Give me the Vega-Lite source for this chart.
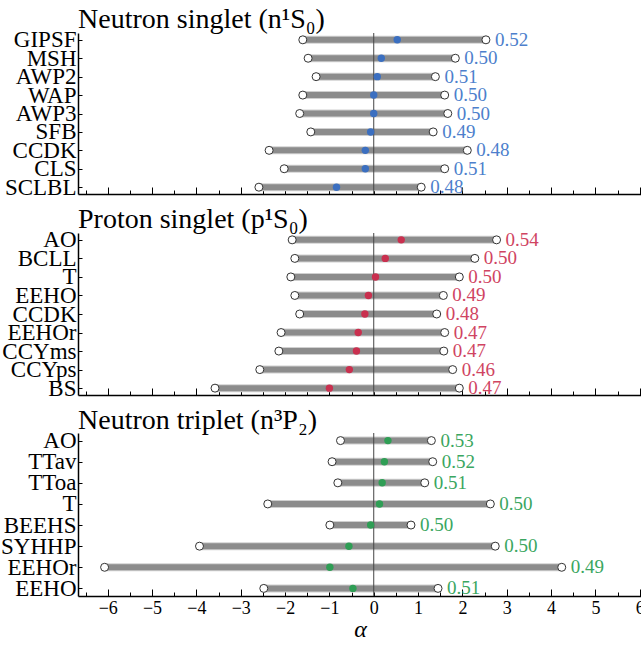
{
  "$schema": "https://vega.github.io/schema/vega-lite/v6.json",
  "padding": {"left": 0, "right": 0, "top": 5, "bottom": 0},
  "spacing": 5,
  "config": {
    "view": {"stroke": null},
    "font": "Liberation Serif",
    "axis": {"domainColor": "#000", "domainWidth": 1.5, "tickColor": "#000", "tickWidth": 1, "grid": false, "labelFont": "Liberation Serif", "labelColor": "#000", "titleFont": "Liberation Serif", "titleColor": "#000"},
    "title": {"font": "Liberation Serif", "fontSize": 28, "fontWeight": "normal", "anchor": "start", "frame": "group", "color": "#000", "offset": -5}
  },
  "datasets": {
    "d": [
      {"panel": "n1S0", "model": "GIPSF", "lo": -1.60, "c": 0.53, "hi": 2.53, "v": 0.52},
      {"panel": "n1S0", "model": "MSH", "lo": -1.48, "c": 0.17, "hi": 1.84, "v": 0.50},
      {"panel": "n1S0", "model": "AWP2", "lo": -1.30, "c": 0.08, "hi": 1.39, "v": 0.51},
      {"panel": "n1S0", "model": "WAP", "lo": -1.60, "c": 0.00, "hi": 1.60, "v": 0.50},
      {"panel": "n1S0", "model": "AWP3", "lo": -1.67, "c": 0.00, "hi": 1.67, "v": 0.50},
      {"panel": "n1S0", "model": "SFB", "lo": -1.42, "c": -0.07, "hi": 1.34, "v": 0.49},
      {"panel": "n1S0", "model": "CCDK", "lo": -2.36, "c": -0.19, "hi": 2.11, "v": 0.48},
      {"panel": "n1S0", "model": "CLS", "lo": -2.02, "c": -0.19, "hi": 1.60, "v": 0.51},
      {"panel": "n1S0", "model": "SCLBL", "lo": -2.59, "c": -0.84, "hi": 1.07, "v": 0.48},
      {"panel": "p1S0", "model": "AO", "lo": -1.84, "c": 0.62, "hi": 2.77, "v": 0.54},
      {"panel": "p1S0", "model": "BCLL", "lo": -1.78, "c": 0.26, "hi": 2.28, "v": 0.50},
      {"panel": "p1S0", "model": "T", "lo": -1.87, "c": 0.04, "hi": 1.93, "v": 0.50},
      {"panel": "p1S0", "model": "EEHO", "lo": -1.78, "c": -0.12, "hi": 1.57, "v": 0.49},
      {"panel": "p1S0", "model": "CCDK", "lo": -1.67, "c": -0.20, "hi": 1.42, "v": 0.48},
      {"panel": "p1S0", "model": "EEHOr", "lo": -2.09, "c": -0.35, "hi": 1.60, "v": 0.47},
      {"panel": "p1S0", "model": "CCYms", "lo": -2.14, "c": -0.39, "hi": 1.58, "v": 0.47},
      {"panel": "p1S0", "model": "CCYps", "lo": -2.57, "c": -0.55, "hi": 1.78, "v": 0.46},
      {"panel": "p1S0", "model": "BS", "lo": -3.58, "c": -1.00, "hi": 1.93, "v": 0.47},
      {"panel": "n3P2", "model": "AO", "lo": -0.75, "c": 0.32, "hi": 1.30, "v": 0.53},
      {"panel": "n3P2", "model": "TTav", "lo": -0.94, "c": 0.24, "hi": 1.33, "v": 0.52},
      {"panel": "n3P2", "model": "TToa", "lo": -0.81, "c": 0.19, "hi": 1.15, "v": 0.51},
      {"panel": "n3P2", "model": "T", "lo": -2.39, "c": 0.13, "hi": 2.63, "v": 0.50},
      {"panel": "n3P2", "model": "BEEHS", "lo": -0.99, "c": -0.07, "hi": 0.84, "v": 0.50},
      {"panel": "n3P2", "model": "SYHHP", "lo": -3.93, "c": -0.56, "hi": 2.74, "v": 0.50},
      {"panel": "n3P2", "model": "EEHOr", "lo": -6.07, "c": -0.99, "hi": 4.24, "v": 0.49},
      {"panel": "n3P2", "model": "EEHO", "lo": -2.48, "c": -0.47, "hi": 1.45, "v": 0.51}
    ]
  },
  "vconcat": [
    {
      "title": "Neutron singlet (n¹S₀)",
      "width": 564, "height": 161,
      "data": {"name": "d"},
      "transform": [{"filter": "datum.panel == 'n1S0'"}],
      "resolve": {"axis": {"x": "independent"}},
      "layer": [
        {"mark": {"type": "rule", "strokeWidth": 8, "color": "#d0d0d0"},
         "encoding": {
           "y": {"field": "model", "type": "nominal", "sort": null, "scale": {"type": "point", "padding": 0.37}, "axis": {"title": null, "labelFont": "Liberation Serif", "labelFontSize": 23, "tickSize": -4, "labelPadding": 6, "labelOverlap": false, "labelBound": false}},
           "x": {"field": "lo", "type": "quantitative", "scale": {"domain": [-6.67, 6.05], "nice": false, "zero": false}, "axis": {"orient": "bottom", "values": [-6,-5,-4,-3,-2,-1,0,1,2,3,4,5,6], "tickSize": -7, "labels": false, "title": null}},
           "x2": {"field": "hi"}}},
        {"mark": {"type": "rule", "strokeWidth": 6, "color": "#8c8c8c"},
         "encoding": {"y": {"field": "model", "type": "nominal", "sort": null}, "x": {"field": "lo", "type": "quantitative", "axis": null}, "x2": {"field": "hi"}}},
        {"transform": [{"aggregate": [{"op": "count", "as": "n"}]}],
         "mark": {"type": "rule", "strokeWidth": 1, "color": "#444"},
         "encoding": {"x": {"datum": 0, "type": "quantitative", "axis": {"orient": "bottom", "values": [-6.5,-5.5,-4.5,-3.5,-2.5,-1.5,-0.5,0.5,1.5,2.5,3.5,4.5,5.5], "tickSize": -4, "labels": false, "domain": false, "title": null}}}},
        {"mark": {"type": "point", "filled": true, "fill": "white", "stroke": "#333", "strokeWidth": 1, "size": 64, "opacity": 1},
         "encoding": {"y": {"field": "model", "type": "nominal", "sort": null}, "x": {"field": "lo", "type": "quantitative", "axis": null}}},
        {"mark": {"type": "point", "filled": true, "fill": "white", "stroke": "#333", "strokeWidth": 1, "size": 64, "opacity": 1},
         "encoding": {"y": {"field": "model", "type": "nominal", "sort": null}, "x": {"field": "hi", "type": "quantitative", "axis": null}}},
        {"mark": {"type": "circle", "color": "#3b6fc0", "size": 55, "opacity": 1},
         "encoding": {"y": {"field": "model", "type": "nominal", "sort": null}, "x": {"field": "c", "type": "quantitative", "axis": null}}},
        {"mark": {"type": "text", "align": "left", "baseline": "middle", "dx": 9, "fontSize": 19, "font": "Liberation Serif", "color": "#4d7fcc"},
         "encoding": {"y": {"field": "model", "type": "nominal", "sort": null}, "x": {"field": "hi", "type": "quantitative", "axis": null}, "text": {"field": "v", "type": "quantitative", "format": ".2f"}}}
      ]
    },
    {
      "title": "Proton singlet (p¹S₀)",
      "width": 564, "height": 162,
      "data": {"name": "d"},
      "transform": [{"filter": "datum.panel == 'p1S0'"}],
      "resolve": {"axis": {"x": "independent"}},
      "layer": [
        {"mark": {"type": "rule", "strokeWidth": 8, "color": "#d0d0d0"},
         "encoding": {
           "y": {"field": "model", "type": "nominal", "sort": null, "scale": {"type": "point", "padding": 0.37}, "axis": {"title": null, "labelFont": "Liberation Serif", "labelFontSize": 23, "tickSize": -4, "labelPadding": 6, "labelOverlap": false, "labelBound": false}},
           "x": {"field": "lo", "type": "quantitative", "scale": {"domain": [-6.67, 6.05], "nice": false, "zero": false}, "axis": {"orient": "bottom", "values": [-6,-5,-4,-3,-2,-1,0,1,2,3,4,5,6], "tickSize": -7, "labels": false, "title": null}},
           "x2": {"field": "hi"}}},
        {"mark": {"type": "rule", "strokeWidth": 6, "color": "#8c8c8c"},
         "encoding": {"y": {"field": "model", "type": "nominal", "sort": null}, "x": {"field": "lo", "type": "quantitative", "axis": null}, "x2": {"field": "hi"}}},
        {"transform": [{"aggregate": [{"op": "count", "as": "n"}]}],
         "mark": {"type": "rule", "strokeWidth": 1, "color": "#444"},
         "encoding": {"x": {"datum": 0, "type": "quantitative", "axis": {"orient": "bottom", "values": [-6.5,-5.5,-4.5,-3.5,-2.5,-1.5,-0.5,0.5,1.5,2.5,3.5,4.5,5.5], "tickSize": -4, "labels": false, "domain": false, "title": null}}}},
        {"mark": {"type": "point", "filled": true, "fill": "white", "stroke": "#333", "strokeWidth": 1, "size": 64, "opacity": 1},
         "encoding": {"y": {"field": "model", "type": "nominal", "sort": null}, "x": {"field": "lo", "type": "quantitative", "axis": null}}},
        {"mark": {"type": "point", "filled": true, "fill": "white", "stroke": "#333", "strokeWidth": 1, "size": 64, "opacity": 1},
         "encoding": {"y": {"field": "model", "type": "nominal", "sort": null}, "x": {"field": "hi", "type": "quantitative", "axis": null}}},
        {"mark": {"type": "circle", "color": "#c9304f", "size": 55, "opacity": 1},
         "encoding": {"y": {"field": "model", "type": "nominal", "sort": null}, "x": {"field": "c", "type": "quantitative", "axis": null}}},
        {"mark": {"type": "text", "align": "left", "baseline": "middle", "dx": 9, "fontSize": 19, "font": "Liberation Serif", "color": "#d04462"},
         "encoding": {"y": {"field": "model", "type": "nominal", "sort": null}, "x": {"field": "hi", "type": "quantitative", "axis": null}, "text": {"field": "v", "type": "quantitative", "format": ".2f"}}}
      ]
    },
    {
      "title": "Neutron triplet (n³P₂)",
      "width": 564, "height": 163,
      "data": {"name": "d"},
      "transform": [{"filter": "datum.panel == 'n3P2'"}],
      "resolve": {"axis": {"x": "independent"}},
      "layer": [
        {"mark": {"type": "rule", "strokeWidth": 8, "color": "#d0d0d0"},
         "encoding": {
           "y": {"field": "model", "type": "nominal", "sort": null, "scale": {"type": "point", "padding": 0.36}, "axis": {"title": null, "labelFont": "Liberation Serif", "labelFontSize": 23, "tickSize": -4, "labelPadding": 6, "labelOverlap": false, "labelBound": false}},
           "x": {"field": "lo", "type": "quantitative", "scale": {"domain": [-6.67, 6.05], "nice": false, "zero": false}, "axis": {"orient": "bottom", "values": [-6,-5,-4,-3,-2,-1,0,1,2,3,4,5,6], "tickSize": -7, "labelFont": "Liberation Serif", "labelFontSize": 18, "labelPadding": 10, "labelOverlap": false, "labelBound": false, "title": "α", "titleFont": "Liberation Serif", "titleFontSize": 24, "titleFontStyle": "italic", "titleFontWeight": "normal", "titlePadding": 0}},
           "x2": {"field": "hi"}}},
        {"mark": {"type": "rule", "strokeWidth": 6, "color": "#8c8c8c"},
         "encoding": {"y": {"field": "model", "type": "nominal", "sort": null}, "x": {"field": "lo", "type": "quantitative", "axis": null}, "x2": {"field": "hi"}}},
        {"transform": [{"aggregate": [{"op": "count", "as": "n"}]}],
         "mark": {"type": "rule", "strokeWidth": 1, "color": "#444"},
         "encoding": {"x": {"datum": 0, "type": "quantitative", "axis": {"orient": "bottom", "values": [-6.5,-5.5,-4.5,-3.5,-2.5,-1.5,-0.5,0.5,1.5,2.5,3.5,4.5,5.5], "tickSize": -4, "labels": false, "domain": false, "title": null}}}},
        {"mark": {"type": "point", "filled": true, "fill": "white", "stroke": "#333", "strokeWidth": 1, "size": 64, "opacity": 1},
         "encoding": {"y": {"field": "model", "type": "nominal", "sort": null}, "x": {"field": "lo", "type": "quantitative", "axis": null}}},
        {"mark": {"type": "point", "filled": true, "fill": "white", "stroke": "#333", "strokeWidth": 1, "size": 64, "opacity": 1},
         "encoding": {"y": {"field": "model", "type": "nominal", "sort": null}, "x": {"field": "hi", "type": "quantitative", "axis": null}}},
        {"mark": {"type": "circle", "color": "#2f9e55", "size": 55, "opacity": 1},
         "encoding": {"y": {"field": "model", "type": "nominal", "sort": null}, "x": {"field": "c", "type": "quantitative", "axis": null}}},
        {"mark": {"type": "text", "align": "left", "baseline": "middle", "dx": 9, "fontSize": 19, "font": "Liberation Serif", "color": "#3aa660"},
         "encoding": {"y": {"field": "model", "type": "nominal", "sort": null}, "x": {"field": "hi", "type": "quantitative", "axis": null}, "text": {"field": "v", "type": "quantitative", "format": ".2f"}}}
      ]
    }
  ]
}
